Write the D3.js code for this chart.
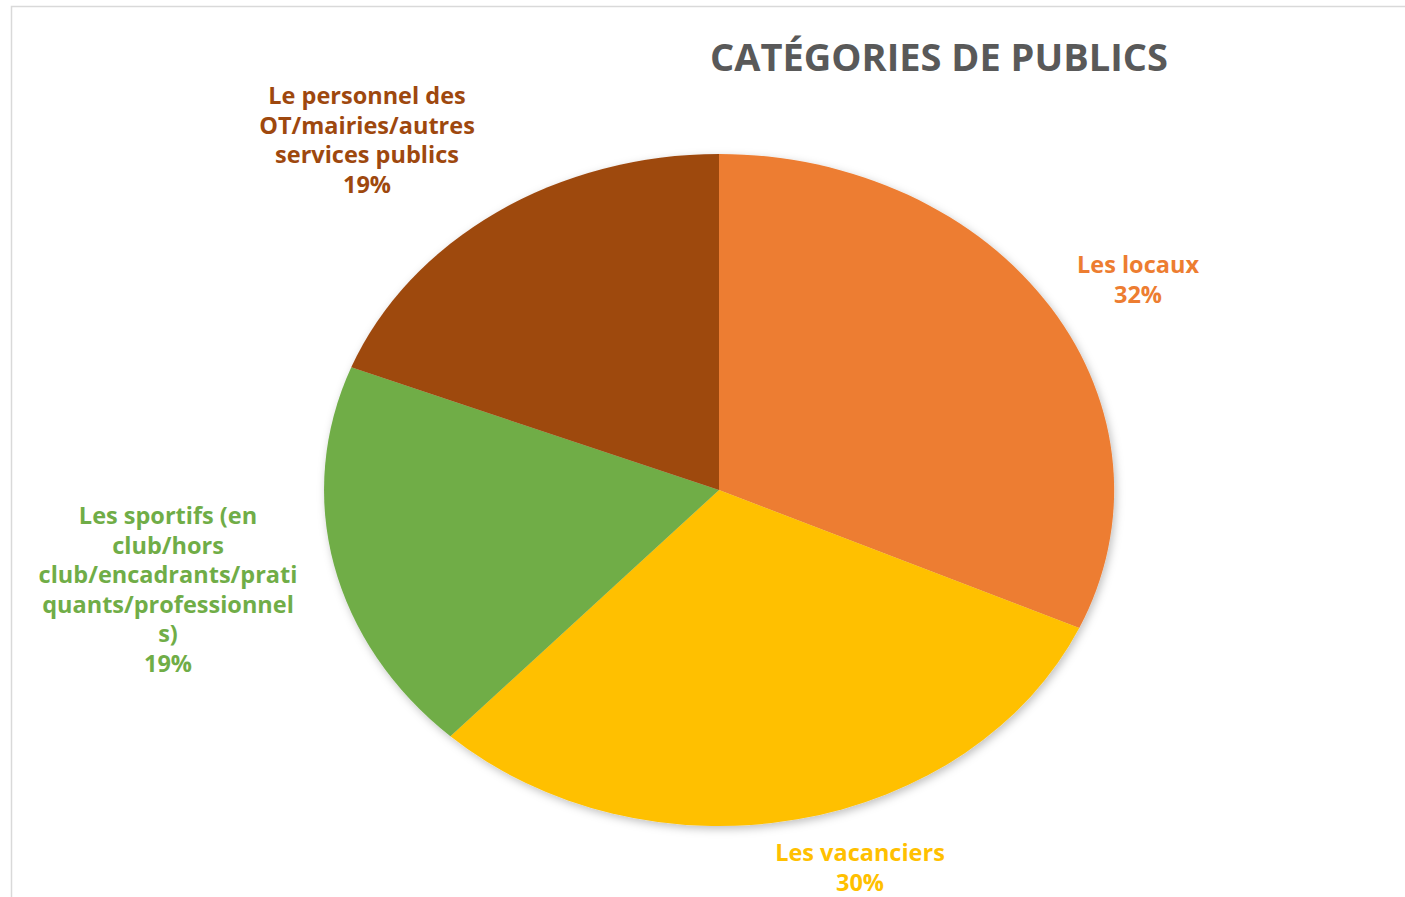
<!DOCTYPE html>
<head>
	<script type="text/javascript" src="https://cdn.jsdelivr.net/npm/d3@7"></script>
</head>
<style type="text/css">
body{
	margin: 0;
	background: #fff;
}
.frame{
	fill: none;
	stroke: #d9d9d9;
	stroke-width: 1.5px;
}
.title{
	font-family: "Open Sans", sans-serif;
	font-weight: 700;
	font-size: 38px;
	fill: #595959;
}
.lbl{
	font-family: "Open Sans", sans-serif;
	font-weight: 700;
	font-size: 23.5px;
}
</style>
<body>
	<div class="viz"></div>
</body>
<script type="text/javascript">
var categories=["Les locaux","Les vacanciers","Les sportifs (en club/hors club/encadrants/pratiquants/professionnels)","Le personnel des OT/mairies/autres services publics"];
var counts=[20,19,12,12];
var colors=["#ed7d31","#ffc000","#70ad47","#9e480e"];
var labelLines=[
	["Les locaux"],
	["Les vacanciers"],
	["Les sportifs (en","club/hors","club/encadrants/prati","quants/professionnel","s)"],
	["Le personnel des","OT/mairies/autres","services publics"]
];

var W=1405,H=897;
var cx=719,cy=490,rx=395,ry=336;

var svg=d3.select(".viz").append("svg").attr("width",W).attr("height",H);

var defs=svg.append("defs");
var f=defs.append("filter").attr("id","shadow").attr("x","-10%").attr("y","-10%").attr("width","120%").attr("height","120%");
f.append("feDropShadow").attr("dx",2).attr("dy",3).attr("stdDeviation",4).attr("flood-color","#000").attr("flood-opacity",0.25);

svg.append("rect").attr("class","frame").attr("x",11.5).attr("y",6.5).attr("width",W+20).attr("height",H+20);

svg.append("text").attr("class","title").attr("x",939).attr("y",71).attr("text-anchor","middle").text("CATÉGORIES DE PUBLICS");

var pie=d3.pie().sort(null).value(function(d){return d;});
var arcs=pie(counts);
var arc=d3.arc().innerRadius(0).outerRadius(1);

var outer=svg.append("g").attr("filter","url(#shadow)");
var g=outer.append("g").attr("transform","translate("+cx+","+cy+") scale("+rx+","+ry+")");
g.selectAll("path").data(arcs).enter().append("path")
	.attr("d",arc)
	.style("fill",function(d,i){return colors[i];});

var total=d3.sum(counts);
var fmt=d3.format(".0%");

// label anchor points (centre of the text block, first baseline)
var labelPos=[[1138,273],[860,861],[168,524],[367,104]];
var lineH=29.5;

arcs.forEach(function(a,i){
	var t=svg.append("text").attr("class","lbl").attr("text-anchor","middle").style("fill",colors[i]);
	var lines=labelLines[i].concat([fmt(counts[i]/total)]);
	lines.forEach(function(s,k){
		t.append("tspan").attr("x",labelPos[i][0]).attr("y",labelPos[i][1]+k*lineH).text(s);
	});
});
</script>
